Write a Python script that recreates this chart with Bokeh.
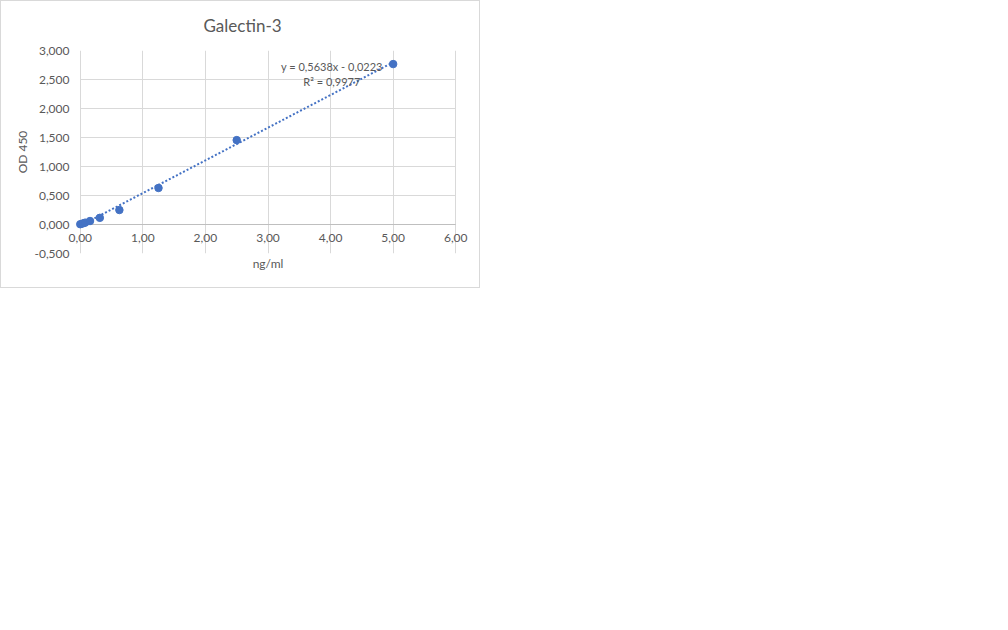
from bokeh.plotting import figure
from bokeh.models import Range1d, FixedTicker, CustomJSTickFormatter
from bokeh.core.properties import value
from bokeh.embed import file_html
from bokeh.resources import INLINE
import numpy as np

# Data
conc = [0, 0.039, 0.078, 0.156, 0.3125, 0.625, 1.25, 2.5, 5]
od450 = [0.005, 0.018, 0.032, 0.06, 0.115, 0.25, 0.63, 1.455, 2.766]
slope = 0.5638
intercept = -0.0223
r2 = 0.9977
x_ticks = [0, 1, 2, 3, 4, 5, 6]
y_ticks = [-0.5, 0, 0.5, 1.0, 1.5, 2.0, 2.5, 3.0]
x_tick_labels = [f"{v:.2f}".replace(".", ",") for v in x_ticks]
title = "Galectin-3"
x_title = "ng/ml"
y_title = "OD 450"

FONT = "Lato"
GRAY = "#595959"
GRID = "#d9d9d9"
BLUE = "#4472c4"

# a little room each side of the plot area so the end tick labels are not cut
pad = 0.22
p = figure(width=480, height=288, output_backend="svg", toolbar_location=None,
           x_range=Range1d(x_ticks[0] - pad, x_ticks[-1] + pad),
           y_range=Range1d(y_ticks[0], y_ticks[-1]),
           min_border_left=65, min_border_right=12, min_border_top=49, min_border_bottom=36)
p.styles = {"border": "1px solid #d9d9d9"}
p.outline_line_color = None
p.background_fill_color = "white"
p.border_fill_color = "white"

p.title.text = title
p.title.align = "left"
p.title.offset = 137
p.title.vertical_align = "top"
p.title.text_font = FONT
p.title.text_font_size = "17px"
p.title.text_font_style = "normal"
p.title.text_color = GRAY
p.title.standoff = 25

# grid limited to the plot area 0..6 x -0.5..3
p.xgrid.ticker = FixedTicker(ticks=x_ticks)
p.ygrid.ticker = FixedTicker(ticks=y_ticks)
p.xgrid.grid_line_color = GRID
p.ygrid.grid_line_color = GRID
p.ygrid.cross_bounds = (x_ticks[0], x_ticks[-1])

# horizontal axis line at y = 0 with its labels
p.segment(x0=[x_ticks[0]], y0=[0], x1=[x_ticks[-1]], y1=[0], line_color="#bfbfbf", line_width=1)
p.text(x=x_ticks, y=[0] * len(x_ticks), text=x_tick_labels, text_align="center",
       text_baseline="top", y_offset=9, text_font=value(FONT),
       text_font_size="12px", text_color=GRAY)

xa = p.xaxis[0]
xa.ticker = FixedTicker(ticks=[])
xa.axis_line_color = None
xa.major_tick_line_color = None
xa.minor_tick_line_color = None
xa.major_tick_out = 0
xa.major_tick_in = 0
xa.major_label_standoff = 0
xa.axis_label = x_title
xa.axis_label_text_font = FONT
xa.axis_label_text_font_size = "12px"
xa.axis_label_text_font_style = "normal"
xa.axis_label_text_color = GRAY
xa.axis_label_standoff = 2

ya = p.yaxis[0]
ya.ticker = FixedTicker(ticks=y_ticks)
ya.formatter = CustomJSTickFormatter(code="return tick.toFixed(3).replace('.', ',');")
ya.axis_line_color = None
ya.major_tick_line_color = None
ya.minor_tick_line_color = None
ya.major_tick_out = 0
ya.major_tick_in = 0
ya.major_label_text_font = FONT
ya.major_label_text_font_size = "12px"
ya.major_label_text_color = GRAY
ya.major_label_standoff = -3
ya.axis_label = y_title
ya.axis_label_text_font = FONT
ya.axis_label_text_font_size = "12px"
ya.axis_label_text_font_style = "normal"
ya.axis_label_text_color = GRAY
ya.axis_label_standoff = 1

# trendline
tx = np.array([min(conc), max(conc)])
ty = slope * tx + intercept
p.line(tx, ty, line_color=BLUE, line_width=2, line_dash="2 2")

p.scatter(conc, od450, size=7.5, color=BLUE)

def fmt(v, n):
    return f"{v:.{n}f}".replace(".", ",")

eq = f"y = {fmt(slope, 4)}x - {fmt(-intercept, 4)}"
r2t = f"R² = {fmt(r2, 4)}"
p.text(x=[4.02, 4.02], y=[2.72, 2.46], text=[eq, r2t], text_align="center",
       text_baseline="middle", text_font=value(FONT), text_font_size="11px", text_color=GRAY)

open("out.html", "w").write(file_html(p, INLINE))
